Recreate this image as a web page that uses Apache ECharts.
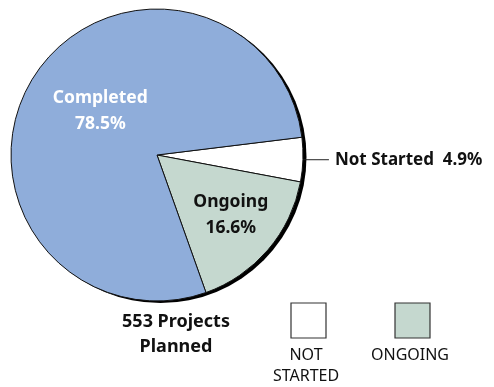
<!DOCTYPE html>
<html>
<head>
<meta charset="utf-8">
<script src="https://cdn.jsdelivr.net/npm/echarts@6/dist/echarts.min.js"></script>
<style>
  html, body { margin: 0; padding: 0; background: #fff; }
  #chart { width: 494px; height: 387px; }
</style>
</head>
<body>
<div id="chart"></div>
<script>
// data
const categories = ['Not Started', 'Ongoing', 'Completed'];
const shares = [4.9, 16.6, 78.5];
const colors = ['#ffffff', '#c5d8cf', '#8fadda'];
const totalProjects = 553;
const legendNames = ['NOT\nSTARTED', 'ONGOING'];

const font = '"Noto Sans", sans-serif';
const chart = echarts.init(document.getElementById('chart'));

const pieData = categories.map((name, i) => ({
  name: name,
  value: shares[i],
  itemStyle: { color: colors[i] }
}));

// Per-slice label tweaks
pieData[0].label = {
  position: 'outside',
  color: '#111',
  fontSize: 17,
  formatter: '{b}  {c}%',
  overflow: 'none',
  distanceToLabelLine: 6
};
pieData[0].labelLine = { show: true, length: 3, length2: 23, lineStyle: { color: '#222', width: 1 } };
pieData[1].label = { color: '#111' };
pieData[2].label = { color: '#fff' };

// legend boxes with the text below the icon
const legendX = [291, 395];
const legendGraphics = [];
legendNames.forEach((n, i) => {
  legendGraphics.push({
    type: 'rect',
    shape: { x: legendX[i], y: 303, width: 35, height: 35 },
    style: { fill: colors[i], stroke: '#333', lineWidth: 1.2 }
  });
  legendGraphics.push({
    type: 'text',
    x: legendX[i] + 15,
    y: 345,
    style: {
      text: n,
      fill: '#111',
      font: '16px ' + font,
      align: 'center',
      verticalAlign: 'top',
      lineHeight: 21
    }
  });
});

const option = {
  animation: false,
  title: {
    text: totalProjects + ' Projects\nPlanned',
    left: 171,
    top: 304,
    textAlign: 'center',
    textStyle: {
      fontFamily: font,
      fontWeight: 'bold',
      fontSize: 18,
      lineHeight: 25,
      color: '#111'
    }
  },
  graphic: legendGraphics,
  series: [
    {
      // drop shadow ring
      type: 'pie',
      silent: true,
      center: [160.5, 157],
      radius: 146,
      label: { show: false },
      labelLine: { show: false },
      itemStyle: { color: '#000' },
      data: [{ value: totalProjects }],
      z: 1
    },
    {
      type: 'pie',
      center: [157, 155],
      radius: 146,
      startAngle: 7,
      clockwise: true,
      z: 2,
      itemStyle: { borderColor: '#111', borderWidth: 1 },
      label: {
        show: true,
        position: 'inside',
        formatter: '{b}\n{c}%',
        fontFamily: font,
        fontWeight: 'bold',
        fontSize: 17.5,
        lineHeight: 26
      },
      labelLayout: function (params) {
        if (params.dataIndex === 2) return { dx: 8, dy: -4 };
        if (params.dataIndex === 1) return { dx: 16, dy: 11 };
        return {};
      },
      data: pieData
    }
  ]
};

chart.setOption(option);
</script>
</body>
</html>
